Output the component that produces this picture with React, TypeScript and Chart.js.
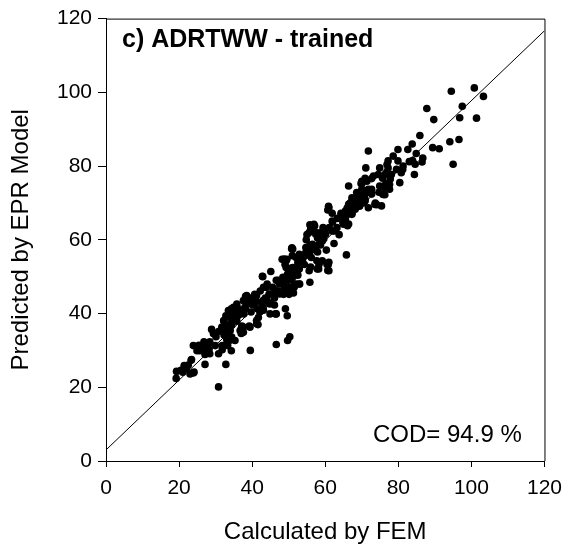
import React, { useEffect, useRef } from "react";
import { Chart, registerables } from "chart.js";

Chart.register(...registerables);

const FONT = "'Liberation Sans', Arial, Helvetica, sans-serif";

const panelLabel = "c) ADRTWW - trained";
const codLabel = "COD= 94.9 %";
const xTitle = "Calculated by FEM";
const yTitle = "Predicted by EPR Model";

const axisMin = 0;
const axisMax = 120;
const axisStep = 20;

// regression line end points
const fitLineX = [0, 120];
const fitLineY = [3.0, 116.7];

// Calculated by FEM (x)
const femValues = [
  94.5, 100.8, 103.3, 97.5, 87.8, 89.7, 96.8, 101.4, 85.9, 94.1, 96.6, 89.4, 91.2, 95.0, 83.8, 82.6, 79.9, 84.9, 86.7, 86.5,
  83.9, 84.6, 81.3, 79.9, 80.8, 84.4, 71.8, 78.6, 77.2, 71.1, 74.9, 77.2, 79.5, 81.2, 78.1, 76.3, 74.5, 73.2, 70.0, 71.4,
  77.6, 80.4, 74.9, 76.3, 77.6, 72.7, 70.9, 68.6, 67.3, 75.8, 69.1, 70.9, 73.6, 75.4, 71.8, 66.4, 65.5, 68.2, 67.3, 65.5,
  66.4, 83.0, 76.9, 76.8, 75.7, 72.7, 70.9, 69.8, 76.6, 77.8, 75.9, 74.7, 73.7, 70.5, 71.7, 70.7, 68.8, 69.4, 68.1, 66.8,
  66.0, 67.3, 65.8, 66.1, 64.8, 64.3, 63.3, 61.9, 60.9, 60.7, 62.0, 62.4, 63.8, 61.1, 59.4, 59.9, 58.4, 57.9, 59.6, 62.4,
  60.3, 58.7, 57.1, 55.8, 56.0, 57.0, 55.0, 54.8, 55.8, 57.0, 57.9, 55.5, 56.2, 57.7, 58.2, 56.0, 54.3, 53.8, 54.5, 53.0,
  52.5, 55.8, 60.5, 60.7, 65.8, 50.8, 51.0, 49.5, 48.2, 49.0, 50.5, 51.8, 50.0, 51.2, 52.5, 53.0, 51.5, 49.9, 48.6, 47.1,
  49.0, 50.6, 51.3, 50.1, 48.6, 49.1, 49.6, 50.3, 49.7, 46.6, 46.4, 44.9, 45.1, 46.6, 42.9, 44.1, 45.6, 47.1, 46.1, 44.6,
  43.1, 42.2, 43.6, 45.0, 46.1, 42.7, 41.2, 40.7, 41.4, 43.1, 41.7, 41.6, 39.2, 37.2, 37.0, 38.2, 37.7, 39.7, 40.2, 38.7,
  38.2, 39.7, 36.2, 35.3, 34.3, 34.8, 35.8, 34.3, 32.8, 32.3, 33.3, 31.8, 33.3, 32.3, 30.8, 29.4, 28.9, 30.1, 33.8, 33.3,
  34.3, 31.8, 30.8, 31.8, 29.9, 28.4, 27.4, 28.2, 26.4, 25.7, 24.9, 23.9, 25.1, 27.1, 28.4, 27.1, 32.8, 30.8, 39.5, 23.4,
  22.5, 21.5, 20.5, 19.3, 19.2, 22.0, 23.0, 23.9, 21.0, 21.4, 23.3, 24.1, 26.3, 28.1, 29.5, 32.6, 31.7, 32.2, 33.5, 35.3,
  37.6, 37.1, 39.4, 34.4, 35.3, 33.1, 26.8, 25.4, 50.9, 48.8, 42.8, 58.3, 60.8, 61.0, 52.9, 50.2, 46.6, 46.1, 47.5, 41.2,
  37.6, 38.5, 34.9, 33.5, 34.0, 36.7, 42.1, 41.2, 41.2, 37.6, 36.7, 34.0, 33.1, 34.4, 52.9, 54.7, 56.5, 51.1, 49.7, 48.4,
  50.6, 52.4, 51.5, 48.8, 47.5, 46.6, 43.9, 44.8, 43.0, 44.1, 44.8, 43.0, 39.8, 40.3, 38.0, 35.8, 36.2, 34.9, 70.0, 76.3,
  74.1, 70.5, 71.8, 61.0, 56.9, 57.4, 55.6, 61.9, 64.1, 65.5, 66.4, 68.2, 69.1, 67.3, 70.9, 72.7, 65.0, 63.2, 61.9, 60.1,
  59.2, 58.3, 57.4, 56.0, 54.7, 53.8, 52.0, 51.1, 49.3, 49.3, 51.1, 52.9, 55.6, 57.8, 59.2, 61.0, 52.0, 50.2, 66.4, 70.0,
];

// Predicted by EPR Model (y)
const eprValues = [
  100.3, 101.2, 98.9, 96.2, 95.6, 92.6, 93.1, 93.0, 88.3, 86.6, 87.2, 85.0, 84.7, 80.5, 86.0, 84.5, 84.5, 83.4, 82.2, 81.1,
  81.5, 80.5, 80.0, 81.4, 78.2, 77.7, 84.1, 82.7, 81.4, 79.5, 79.5, 79.5, 79.1, 79.1, 77.7, 77.7, 77.7, 77.3, 75.9, 75.9,
  75.0, 75.5, 74.6, 74.1, 73.7, 73.7, 73.2, 72.8, 71.4, 72.3, 71.4, 70.5, 69.6, 69.2, 68.7, 69.6, 67.8, 68.3, 66.9, 65.6,
  64.3, 81.2, 80.4, 78.3, 76.7, 76.6, 76.7, 75.3, 75.3, 76.5, 72.4, 72.9, 70.0, 70.0, 72.9, 71.5, 72.4, 69.1, 69.6, 70.0,
  68.6, 67.2, 66.7, 63.8, 64.8, 67.2, 65.8, 67.2, 69.1, 68.1, 64.8, 62.4, 61.4, 63.3, 63.3, 61.9, 61.9, 60.5, 60.3, 59.0,
  57.2, 58.6, 63.8, 64.1, 62.9, 62.4, 61.4, 60.0, 58.6, 57.6, 56.7, 56.7, 55.2, 54.3, 52.1, 52.6, 53.3, 54.7, 55.7, 55.7,
  53.8, 48.5, 53.3, 51.7, 55.9, 57.6, 55.7, 54.7, 54.7, 53.3, 52.3, 51.9, 50.9, 50.0, 50.4, 48.0, 48.0, 49.0, 48.0, 49.0,
  46.6, 46.1, 45.6, 45.2, 45.2, 41.3, 39.4, 33.7, 32.7, 31.6, 39.9, 39.9, 51.4, 49.0, 50.0, 48.0, 47.1, 46.1, 44.2, 45.2,
  47.1, 46.1, 44.2, 42.8, 42.3, 42.8, 43.3, 45.2, 41.3, 40.9, 38.9, 37.0, 36.6, 36.6, 34.6, 41.3, 39.9, 40.4, 42.3, 43.3,
  44.7, 44.2, 41.3, 40.4, 41.3, 39.4, 37.9, 37.5, 39.4, 37.9, 36.6, 36.1, 34.6, 34.2, 35.1, 34.6, 35.7, 33.7, 32.7, 31.3,
  29.9, 30.2, 29.1, 31.3, 31.3, 32.3, 31.3, 30.3, 30.8, 29.9, 29.9, 31.3, 31.0, 28.9, 29.1, 26.2, 26.2, 20.1, 30.0, 27.5,
  26.0, 25.6, 24.6, 24.3, 22.4, 25.1, 23.6, 23.9, 24.1, 25.9, 27.3, 24.1, 30.0, 31.8, 34.5, 34.9, 36.3, 38.1, 39.5, 41.3,
  34.9, 36.3, 36.3, 36.8, 32.7, 33.1, 32.3, 31.4, 57.8, 54.8, 50.1, 53.4, 53.2, 51.6, 48.0, 47.1, 39.9, 45.3, 45.3, 44.9,
  43.5, 44.9, 41.7, 40.8, 39.0, 40.8, 40.4, 38.1, 37.2, 36.3, 35.4, 35.4, 32.7, 33.6, 56.1, 57.9, 58.8, 52.5, 50.7, 49.8,
  49.4, 50.7, 47.1, 47.1, 48.0, 46.2, 47.1, 45.3, 43.5, 43.5, 42.6, 41.7, 42.6, 44.0, 41.7, 42.6, 39.5, 38.1, 75.2, 72.2,
  69.5, 72.4, 73.7, 68.7, 64.2, 61.5, 62.0, 65.1, 66.0, 67.4, 68.7, 69.6, 70.5, 70.5, 71.0, 72.4, 64.2, 63.3, 62.4, 61.5,
  59.7, 58.8, 57.9, 57.0, 56.6, 55.2, 55.2, 57.5, 54.3, 52.5, 51.6, 52.1, 51.6, 52.1, 54.3, 53.9, 48.0, 49.8, 74.6, 73.7,
];

const overlayPlugin = {
  id: "overlayText",
  afterDraw(chart: any) {
    const { ctx, chartArea } = chart;
    const { left, top, right, bottom } = chartArea;
    ctx.save();
    ctx.strokeStyle = "#000";
    ctx.lineWidth = 1;
    ctx.beginPath();
    ctx.moveTo(left, top + 0.5);
    ctx.lineTo(right + 0.5, top + 0.5);
    ctx.lineTo(right + 0.5, bottom);
    ctx.stroke();
    ctx.fillStyle = "#000";
    ctx.textAlign = "left";
    ctx.textBaseline = "alphabetic";
    ctx.font = `bold 25px ${FONT}`;
    ctx.fillText(panelLabel, left + 16, top + 28);
    ctx.font = `24px ${FONT}`;
    ctx.fillText(codLabel, left + 267, bottom - 19);
    ctx.restore();
  },
};

export default function App() {
  const canvasRef = useRef<HTMLCanvasElement | null>(null);

  useEffect(() => {
    if (!canvasRef.current) return;
    const points = femValues.map((x, i) => ({ x, y: eprValues[i] }));
    const line = fitLineX.map((x, i) => ({ x, y: fitLineY[i] }));
    const chart = new Chart(canvasRef.current, {
      type: "scatter",
      data: {
        datasets: [
          {
            data: points,
            backgroundColor: "#000",
            borderColor: "#000",
            pointRadius: 3.8,
            pointBorderWidth: 0,
            order: 0,
          },
          {
            data: line,
            showLine: true,
            borderColor: "#000",
            borderWidth: 1,
            pointRadius: 0,
            order: 1,
          } as any,
        ],
      },
      options: {
        responsive: false,
        animation: false,
        devicePixelRatio: 1,
        layout: { padding: { top: 17, right: 21, left: 0, bottom: 0 } },
        plugins: { legend: { display: false }, tooltip: { enabled: false } },
        scales: {
          x: {
            type: "linear",
            min: axisMin,
            max: axisMax,
            ticks: {
              stepSize: axisStep,
              color: "#000",
              font: { family: FONT, size: 21 },
              padding: 9,
              maxRotation: 0,
            },
            grid: { drawOnChartArea: false, drawTicks: true, tickLength: 6, color: "#000" },
            border: { color: "#000", width: 1 },
            title: {
              display: true,
              text: xTitle,
              color: "#000",
              font: { family: FONT, size: 24 },
              padding: { top: 0, bottom: 8 },
            },
            afterFit: (s: any) => {
              s.height = 94;
            },
          },
          y: {
            type: "linear",
            min: axisMin,
            max: axisMax,
            ticks: {
              stepSize: axisStep,
              color: "#000",
              font: { family: FONT, size: 21 },
              padding: 6,
            },
            grid: { drawOnChartArea: false, drawTicks: true, tickLength: 8, color: "#000" },
            border: { color: "#000", width: 1 },
            title: {
              display: true,
              text: yTitle,
              color: "#000",
              font: { family: FONT, size: 24 },
              padding: { top: 7, bottom: 0 },
            },
            afterFit: (s: any) => {
              s.width = 106;
            },
          },
        },
      },
      plugins: [overlayPlugin],
    });
    return () => chart.destroy();
  }, []);

  return (
    <div style={{ position: "absolute", left: 0, top: 0, width: 571, height: 555, background: "#fff" }}>
      <canvas ref={canvasRef} width={571} height={555} style={{ display: "block", width: 571, height: 555 }} />
    </div>
  );
}
